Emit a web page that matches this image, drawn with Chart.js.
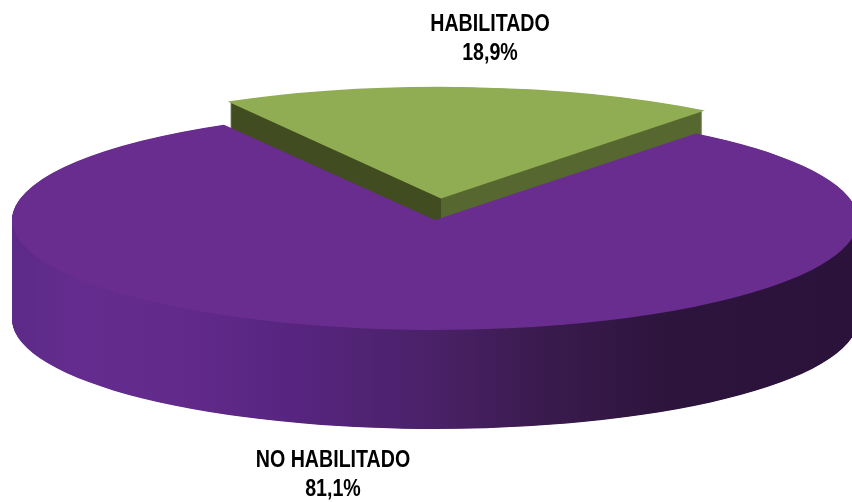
<!DOCTYPE html>
<html>
<head>
<meta charset="utf-8">
<style>
    html, body { margin: 0; padding: 0; background: #fff; }
    #wrap { width: 852px; height: 502px; overflow: hidden; }
</style>
<script src="https://cdn.jsdelivr.net/npm/chart.js@4/dist/chart.umd.min.js"></script>
</head>
<body>
<div id="wrap"><canvas id="myChart" width="852" height="502"></canvas></div>
<script>
var categories = ['NO HABILITADO', 'HABILITADO'];
var percentValues = [81.1, 18.9];
var sliceColors = ['#692C8F', '#90AD54'];

// screen position of the flattened pie
var squash = 0.26;
var pieCenterY = 220;
// green walls run a bit deeper, the purple top face cuts them off along the notch
var sideDepth = [99, 30];

// how far the arc element moves itself for a given offset (same sums as ArcElement.draw)
function sliceShift(el) {
    var offset = (el.options.offset || 0) / 4;
    var fix = 1 - Math.sin(Math.min(Math.PI, el.circumference));
    var half = (el.startAngle + el.endAngle) / 2;
    return { x: Math.cos(half) * offset * (1 + fix), y: Math.sin(half) * offset * (1 + fix) };
}

function sideFill(ctx, index, el) {
    if (index === 1) {
        // two flat walls, split at the tip of the slice
        var tipX = (el.x + sliceShift(el).x - 12) / 840;
        var g = ctx.createLinearGradient(12, 0, 852, 0);
        g.addColorStop(0, '#414C20');
        g.addColorStop(tipX, '#414C20');
        g.addColorStop(tipX, '#566830');
        g.addColorStop(1, '#566830');
        return g;
    }
    var grad = ctx.createLinearGradient(12, 0, 852, 0);
    grad.addColorStop(0, '#5C2A87');
    grad.addColorStop(0.08, '#652C8F');
    grad.addColorStop(0.2, '#622A8B');
    grad.addColorStop(0.33, '#572580');
    grad.addColorStop(0.5, '#4A2168');
    grad.addColorStop(0.62, '#3C1B50');
    grad.addColorStop(0.78, '#2C143C');
    grad.addColorStop(1, '#2A123A');
    return grad;
}

function narrowText(ctx, text, x, y) {
    ctx.save();
    ctx.translate(x, y);
    ctx.scale(0.835, 1);
    ctx.fillText(text, 0, 0);
    ctx.restore();
}

var pie3d = {
    id: 'pie3d',
    beforeDatasetsDraw: function (chart) {
        var ctx = chart.ctx;
        var arcs = chart.getDatasetMeta(0).data;
        ctx.save();
        ctx.translate(0, pieCenterY);
        ctx.scale(1, squash);
        ctx.translate(0, -arcs[0].y);

        arcs.forEach(function (el, i) {
            var shift = sliceShift(el);
            ctx.fillStyle = sideFill(ctx, i, el);
            for (var d = sideDepth[i]; d > 0; d -= 0.5) {
                var cx = el.x + shift.x;
                var cy = el.y + shift.y + d / squash;
                ctx.beginPath();
                ctx.moveTo(cx, cy);
                ctx.arc(cx, cy, el.outerRadius, el.startAngle, el.endAngle);
                ctx.closePath();
                ctx.fill();
            }
        });
    },
    afterDatasetsDraw: function (chart) {
        chart.ctx.restore();
    },
    afterDraw: function (chart) {
        var ctx = chart.ctx;
        var pct = percentValues.map(function (v) { return v.toFixed(1).replace('.', ',') + '%'; });
        ctx.save();
        ctx.fillStyle = '#000';
        ctx.font = 'bold 23.5px "Liberation Sans", sans-serif';
        ctx.textAlign = 'center';
        ctx.textBaseline = 'alphabetic';
        narrowText(ctx, categories[1], 490, 31);
        narrowText(ctx, pct[1], 490, 60);
        narrowText(ctx, categories[0], 333, 467);
        narrowText(ctx, pct[0], 333, 496);
        ctx.restore();
    }
};

var canvasElement = document.getElementById('myChart');
var myChart = new Chart(canvasElement.getContext('2d'), {
    type: 'pie',
    plugins: [pie3d],
    data: {
        labels: categories,
        datasets: [{
            data: percentValues,
            backgroundColor: sliceColors,
            borderWidth: 0,
            offset: [0, 333],
            clip: false
        }]
    },
    options: {
        responsive: false,
        animation: false,
        rotation: 38.1,
        radius: 423,
        layout: { padding: { left: 18 } },
        events: [],
        plugins: {
            legend: { display: false },
            tooltip: { enabled: false }
        }
    }
});
</script>
</body>
</html>
